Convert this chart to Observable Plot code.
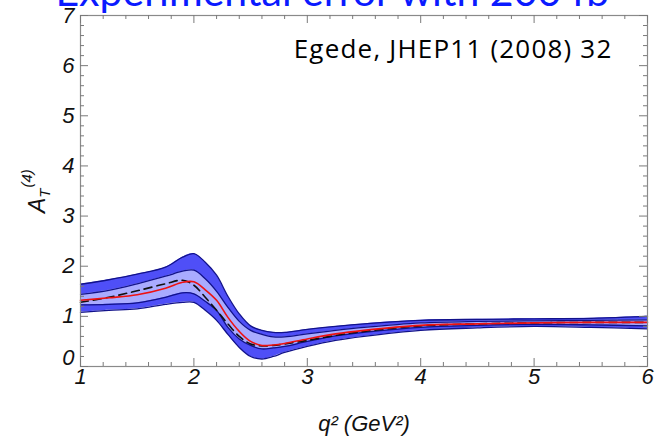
<!DOCTYPE html>
<html>
<head>
<meta charset="utf-8">
<script src="https://cdn.jsdelivr.net/npm/d3@7"></script>
<script src="https://cdn.jsdelivr.net/npm/@observablehq/plot@0.6"></script>
<style>
  html, body { margin: 0; padding: 0; background: #ffffff; overflow: hidden; }
  #wrap { position: relative; width: 661px; height: 447px; }
</style>
</head>
<body>
<div id="wrap"></div>
<script>
// ---- data ----
const titleText = "Experimental error with 200 fb\u207B\u00B9";
const noteText = "Egede, JHEP11 (2008) 32";
const q        = [1, 1.25, 1.5, 1.75, 1.9, 2.0, 2.1, 2.2, 2.3, 2.4, 2.5, 2.6, 2.7, 2.8, 3.0, 3.25, 3.5, 4, 4.5, 5, 5.5, 6];
const outerHi  = [1.64, 1.73, 1.84, 1.98, 2.18, 2.25, 2.08, 1.82, 1.40, 1.05, 0.81, 0.72, 0.68, 0.68, 0.74, 0.80, 0.85, 0.92, 0.94, 0.95, 0.96, 1.00];
const outerLo  = [1.08, 1.12, 1.15, 1.24, 1.28, 1.28, 1.12, 0.92, 0.64, 0.38, 0.20, 0.15, 0.20, 0.28, 0.40, 0.52, 0.60, 0.72, 0.77, 0.80, 0.78, 0.75];
const innerHi  = [1.44, 1.52, 1.65, 1.80, 1.90, 1.92, 1.75, 1.50, 1.18, 0.90, 0.72, 0.64, 0.59, 0.59, 0.65, 0.72, 0.78, 0.87, 0.90, 0.91, 0.92, 0.93];
const innerLo  = [1.23, 1.24, 1.27, 1.38, 1.47, 1.45, 1.30, 1.12, 0.78, 0.55, 0.42, 0.35, 0.37, 0.40, 0.50, 0.61, 0.68, 0.78, 0.82, 0.84, 0.83, 0.81];
const central  = [1.32, 1.37, 1.43, 1.56, 1.68, 1.69, 1.53, 1.32, 0.98, 0.70, 0.50, 0.42, 0.43, 0.46, 0.55, 0.65, 0.72, 0.82, 0.85, 0.87, 0.88, 0.88];
const dashed   = [1.28, 1.38, 1.51, 1.65, 1.72, 1.62, 1.38, 1.12, 0.85, 0.60, 0.45, 0.41, 0.42, 0.45, 0.52, 0.62, 0.70, 0.81, 0.85, 0.87, 0.88, 0.88];
const xMajor   = [1, 2, 3, 4, 5, 6];
const xMinor   = [1.2,1.4,1.6,1.8,2.2,2.4,2.6,2.8,3.2,3.4,3.6,3.8,4.2,4.4,4.6,4.8,5.2,5.4,5.6,5.8];
const yMajor   = [0, 1, 2, 3, 4, 5, 6, 7];
const yMinor   = [0.2,0.4,0.6,0.8,1.2,1.4,1.6,1.8,2.2,2.4,2.6,2.8,3.2,3.4,3.6,3.8,4.2,4.4,4.6,4.8,5.2,5.4,5.6,5.8,6.2,6.4,6.6,6.8];

const rows = q.map((v, i) => ({q: v, ohi: outerHi[i], olo: outerLo[i], ihi: innerHi[i], ilo: innerLo[i], c: central[i], d: dashed[i]}));

const outerFill = "#4f4ff7";
const innerFill = "#a9abff";
const edge = "#12128a";
const tickCol = "#7a7a7a";
const curve = "catmull-rom";
const fmt = d => String(d);

const W = 661, H = 447, mL = 80, mR = 14, mT = 15, mB = 81;
// tick lengths expressed in data units of each scale (8px major, 4px minor)
const xPerPx = (6 - 1) / (W - mL - mR);
const yPerPx = (7 - 0) / (H - mT - mB);
const tx = n => n * xPerPx, ty = n => n * yPerPx;

const chart = Plot.plot({
  width: W,
  height: H,
  marginLeft: mL,
  marginRight: mR,
  marginTop: mT,
  marginBottom: mB,
  style: {fontFamily: "Liberation Sans, Arial, sans-serif", background: "#ffffff", overflow: "visible"},
  x: {domain: [1, 6], axis: null},
  y: {domain: [0, 7], axis: null},
  marks: [
    Plot.areaY(rows, {x: "q", y1: "olo", y2: "ohi", fill: outerFill, curve}),
    Plot.areaY(rows, {x: "q", y1: "ilo", y2: "ihi", fill: innerFill, curve}),
    Plot.line(rows, {x: "q", y: "ohi", stroke: edge, strokeWidth: 1.3, curve}),
    Plot.line(rows, {x: "q", y: "olo", stroke: edge, strokeWidth: 1.3, curve}),
    Plot.line(rows, {x: "q", y: "ihi", stroke: edge, strokeWidth: 1.3, curve}),
    Plot.line(rows, {x: "q", y: "ilo", stroke: edge, strokeWidth: 1.3, curve}),
    Plot.line(rows, {x: "q", y: "d", stroke: "#111111", strokeWidth: 1.6, strokeDasharray: "8,5", curve}),
    Plot.line(rows, {x: "q", y: "c", stroke: "#ee1111", strokeWidth: 1.6, curve}),
    Plot.frame({stroke: "#8a8a8a", strokeWidth: 1.2}),
    // inward ticks on all four sides
    Plot.ruleX(xMajor, {x: d => d, y1: 0, y2: ty(8), stroke: tickCol}),
    Plot.ruleX(xMinor, {x: d => d, y1: 0, y2: ty(4), stroke: tickCol}),
    Plot.ruleX(xMajor, {x: d => d, y1: 7, y2: 7 - ty(8), stroke: tickCol}),
    Plot.ruleX(xMinor, {x: d => d, y1: 7, y2: 7 - ty(4), stroke: tickCol}),
    Plot.ruleY(yMajor, {y: d => d, x1: 1, x2: 1 + tx(8), stroke: tickCol}),
    Plot.ruleY(yMinor, {y: d => d, x1: 1, x2: 1 + tx(4), stroke: tickCol}),
    Plot.ruleY(yMajor, {y: d => d, x1: 6, x2: 6 - tx(8), stroke: tickCol}),
    Plot.ruleY(yMinor, {y: d => d, x1: 6, x2: 6 - tx(4), stroke: tickCol}),
    // tick labels
    Plot.axisX(xMajor, {anchor: "bottom", tickSize: 0, tickPadding: 2, tickFormat: fmt, fontSize: 22, fontStyle: "italic", fill: "#111", label: null}),
    Plot.axisY(yMajor.filter(v => v !== 0), {anchor: "left", tickSize: 0, tickPadding: 6, tickFormat: fmt, fontSize: 22, fontStyle: "italic", fill: "#111", label: null}),
    Plot.axisY([0], {anchor: "left", tickSize: 0, tickPadding: 6, dy: -9, tickFormat: fmt, fontSize: 22, fontStyle: "italic", fill: "#111", label: null}),
    // x axis title
    Plot.text([`q\u00B2 (GeV\u00B2)`], {frameAnchor: "bottom", dy: 64, fontSize: 22, fontStyle: "italic", fill: "#111", lineAnchor: "bottom"}),
    // annotation
    Plot.text([noteText], {frameAnchor: "top-right", dx: -35, dy: 34, lineAnchor: "middle", textAnchor: "end", fontSize: 26, fontFamily: "Open Sans, Lato, sans-serif", fill: "#000"})
  ]
});

const svg = d3.select(chart);
svg.selectAll("text").filter(function () { return this.textContent === noteText; })
  .style("letter-spacing", "1.2px");

// y axis title A_T^(4)
const yl = svg.append("text")
  .attr("transform", "translate(45,213) rotate(-90)")
  .attr("text-anchor", "start")
  .attr("font-family", "Liberation Sans, Arial, sans-serif")
  .attr("font-style", "italic")
  .attr("fill", "#111");
yl.append("tspan").attr("font-size", 23).text("A");
yl.append("tspan").attr("font-size", 15).attr("dy", 5).text("T");
yl.append("tspan").attr("font-size", 15).attr("dy", -18).attr("dx", 1).text("(4)");

// slide title (cut at the top edge)
svg.append("text")
  .attr("x", 346)
  .attr("y", 6)
  .attr("text-anchor", "middle")
  .attr("font-family", "Lato, Open Sans, sans-serif")
  .attr("font-size", 41)
  .attr("fill", "#0a1aff")
  .text(titleText);

document.getElementById("wrap").appendChild(chart);
</script>
</body>
</html>
